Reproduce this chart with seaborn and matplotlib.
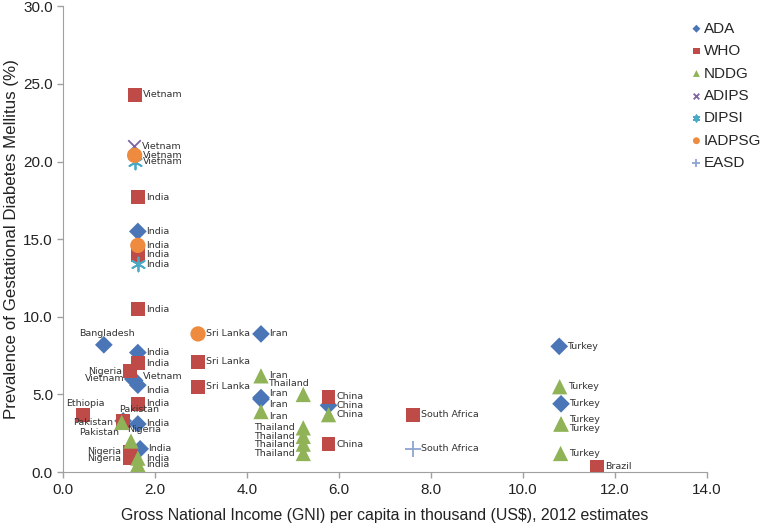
import matplotlib
matplotlib.use('Agg')
import matplotlib.pyplot as plt
import numpy as np
import seaborn as sns

# ADA
ada_country = ['Bangladesh', 'India', 'India', 'Vietnam', 'Vietnam', 'India', 'India', 'India',
               'Pakistan', 'Iran', 'Iran', 'Iran', 'China', 'Turkey', 'Turkey']
ada_gni = [0.88, 1.62, 1.62, 1.51, 1.55, 1.62, 1.62, 1.67,
           1.30, 4.30, 4.30, 4.30, 5.77, 10.79, 10.83]
ada_gdm = [8.2, 15.5, 7.7, 6.0, 5.9, 5.6, 3.1, 1.5,
           3.3, 8.9, 4.8, 4.7, 4.3, 8.1, 4.4]

# WHO
who_country = ['Vietnam', 'India', 'India', 'India', 'India', 'Nigeria', 'India', 'Sri Lanka',
               'Sri Lanka', 'Ethiopia', 'Pakistan', 'Nigeria', 'Nigeria', 'China', 'China',
               'South Africa', 'Brazil']
who_gni = [1.55, 1.62, 1.62, 1.62, 1.62, 1.45, 1.62, 2.93,
           2.93, 0.42, 1.30, 1.44, 1.44, 5.77, 5.77, 7.61, 11.61]
who_gdm = [24.3, 17.7, 14.0, 10.5, 7.0, 6.5, 4.4, 7.1,
           5.5, 3.7, 3.3, 1.3, 0.9, 4.85, 1.8, 3.7, 0.35]

# NDDG
nddg_country = ['Pakistan', 'Nigeria', 'India', 'India', 'Iran', 'Iran', 'Thailand', 'Thailand',
                'Thailand', 'Thailand', 'Thailand', 'China', 'Turkey', 'Turkey', 'Turkey', 'Turkey']
nddg_gni = [1.27, 1.47, 1.62, 1.62, 4.30, 4.30, 5.22, 5.22,
            5.22, 5.22, 5.22, 5.77, 10.80, 10.83, 10.83, 10.82]
nddg_gdm = [3.2, 2.0, 0.9, 0.5, 6.2, 3.9, 5.0, 2.85,
            2.3, 1.8, 1.2, 3.7, 5.5, 3.1, 3.1, 1.2]

# ADIPS, DIPSI, IADPSG, EASD
adips_country = ['Vietnam']
adips_gni = [1.53]
adips_gdm = [21.0]

dipsi_country = ['Vietnam', 'India']
dipsi_gni = [1.55, 1.62]
dipsi_gdm = [20.0, 13.4]

iadpsg_country = ['Vietnam', 'India', 'Sri Lanka']
iadpsg_gni = [1.55, 1.62, 2.93]
iadpsg_gdm = [20.4, 14.6, 8.9]

easd_country = ['South Africa']
easd_gni = [7.61]
easd_gdm = [1.5]

# label placement (r = right of marker)
ada_side = ['t', 'r', 'r', 'l', 'ru', 'rd', 'r', 'r', 'bl', 'r', 'ru', 'rd', 'r', 'r', 'r']
who_side = ['r', 'r', 'r', 'r', 'r', 'l', 'r', 'r', 'r', 't', 'tr', 'l', 'l', 'r', 'r', 'r', 'r']
nddg_side = ['l', 'tr', 'r', 'r', 'r', 'rd', 'tl', 'l', 'l', 'l', 'l', 'r', 'r', 'ru', 'rd', 'r']

series = [
    ('ADA', ada_gni, ada_gdm, ada_country, ada_side, '#4A76B8', 'D', 9),
    ('WHO', who_gni, who_gdm, who_country, who_side, '#BE4B48', 's', 10),
    ('NDDG', nddg_gni, nddg_gdm, nddg_country, nddg_side, '#8FB356', '^', 11),
    ('ADIPS', adips_gni, adips_gdm, adips_country, None, '#7E62A1', 'x', 9),
    ('DIPSI', dipsi_gni, dipsi_gdm, dipsi_country, None, '#4AAAC5', (6, 2, 0), 10),
    ('IADPSG', iadpsg_gni, iadpsg_gdm, iadpsg_country, None, '#EE8B3F', 'o', 11),
    ('EASD', easd_gni, easd_gdm, easd_country, None, '#8EA4D2', '+', 12),
]

offsets = {
    'r': ((6, 0), 'left', 'center'),
    'ru': ((6, 3), 'left', 'center'),
    'rd': ((6, -3.5), 'left', 'center'),
    'l': ((-6, 0), 'right', 'center'),
    't': ((2, 5), 'center', 'bottom'),
    'tr': ((-3, 5), 'left', 'bottom'),
    'tl': ((4, 5), 'right', 'bottom'),
    'bl': ((-3, -5), 'right', 'top'),
}

sns.set_style('ticks')
plt.rcParams['font.family'] = ['Liberation Sans', 'DejaVu Sans']

fig, ax = plt.subplots(figsize=(7.64, 5.24), dpi=100)
fig.subplots_adjust(left=0.083, right=0.925, bottom=0.099, top=0.988)

for name, xs, ys, names, sides, color, marker, size in series:
    line_marker = marker in ('x', '+') or isinstance(marker, tuple)
    if line_marker:
        sns.scatterplot(x=xs, y=ys, ax=ax, marker=marker, color=color, s=size ** 2,
                        linewidth=1.3, label=name, zorder=3)
    else:
        sns.scatterplot(x=xs, y=ys, ax=ax, marker=marker, color=color, s=size ** 2,
                        edgecolor='none', label=name, zorder=3)
    if sides is None:
        sides = ['r'] * len(xs)
    for x, y, t, sd in zip(xs, ys, names, sides):
        off, ha, va = offsets[sd]
        ax.annotate(t, (x, y), xytext=off, textcoords='offset points', ha=ha, va=va,
                    fontsize=6.8, color='#333333', family='DejaVu Sans', zorder=4)

ax.set_xlim(0, 14)
ax.set_ylim(0, 30)
ax.set_xticks(np.arange(0, 15, 2))
ax.set_yticks(np.arange(0, 31, 5))
ax.set_xticklabels([f'{v:.1f}' for v in np.arange(0, 15, 2)])
ax.set_yticklabels([f'{v:.1f}' for v in np.arange(0, 31, 5)])
ax.tick_params(labelsize=11, length=4, width=1, colors='#A0A0A0', labelcolor='#222222')
for s in ['left', 'bottom']:
    ax.spines[s].set_color('#A0A0A0')
sns.despine(ax=ax)

ax.set_xlabel('Gross National Income (GNI) per capita in thousand (US$), 2012 estimates',
              fontsize=11.4, color='#222222', labelpad=8)
ax.set_ylabel('Prevalence of Gestational Diabetes Mellitus (%)', fontsize=12.2,
              color='#222222', labelpad=3)

handles, labels = ax.get_legend_handles_labels()
ax.legend(handles, labels, loc='upper left', bbox_to_anchor=(0.965, 0.98),
          frameon=False, fontsize=11, markerscale=0.45, handletextpad=0.1,
          handlelength=0.8, labelspacing=0.55, borderaxespad=0)

fig.savefig('out.png', dpi=100)
